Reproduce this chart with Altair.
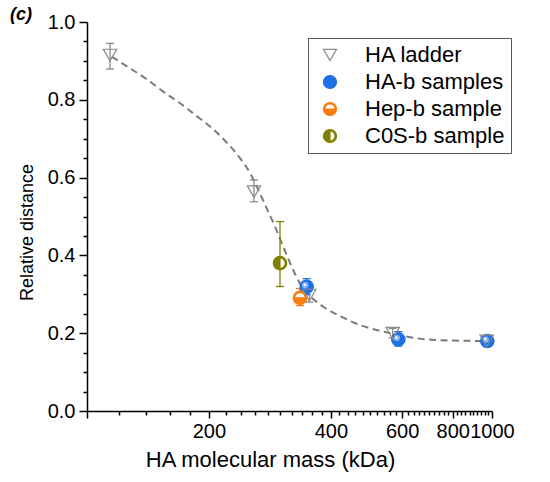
import altair as alt
import pandas as pd

# ---------------- data ----------------
series_order = ["HA ladder", "HA-b samples", "Hep-b sample", "C0S-b sample"]

ladder_mass = [114.0, 258.4, 353.9, 568.5, 970.0]
ladder_dist = [0.915, 0.564, 0.298, 0.200, 0.180]
ladder_lo = [0.879, 0.538, 0.280, 0.188, 0.170]
ladder_hi = [0.945, 0.594, 0.316, 0.212, 0.190]

hab_mass = [348.6, 587.0, 973.6]
hab_dist = [0.3195, 0.184, 0.180]
hab_lo = [0.299, 0.167, 0.168]
hab_hi = [0.340, 0.204, 0.192]

hep_mass = [335.7]
hep_dist = [0.291]
hep_lo = [0.271]
hep_hi = [0.315]

c0s_mass = [299.6]
c0s_dist = [0.380]
c0s_lo = [0.320]
c0s_hi = [0.487]

fit_mass = [115.1, 127.7, 140.4, 154.3, 169.7, 186.6, 205.1, 221.3, 238.7, 252.6,
            264.9, 277.8, 291.2, 305.3, 320.1, 335.7, 355.2, 383.3, 421.4, 472.2,
            529.0, 592.9, 689.8, 802.6, 961.0]
fit_dist = [0.911, 0.881, 0.853, 0.821, 0.791, 0.758, 0.724, 0.690, 0.650, 0.612,
            0.568, 0.521, 0.474, 0.422, 0.371, 0.328, 0.296, 0.268, 0.244, 0.221,
            0.206, 0.1945, 0.184, 0.181, 0.180]

x_ticks = list(range(100, 1001, 20))
y_ticks = [round(i * 0.05, 2) for i in range(21)]

# ---------------- styles ----------------
GRAY = "#8a8a8a"
BLUE = "#1f6fe5"
ORANGE = "#fa7d0a"
OLIVE = "#808000"
FONT = "Liberation Sans"

k = 0.5523
r = 0.78
kr = round(k * r, 4)
outer = (f"M0,-1C{k},-1,1,-{k},1,0C1,{k},{k},1,0,1C-{k},1,-1,{k},-1,0"
         f"C-1,-{k},-{k},-1,0,-1Z")
inner = (f"M0,-{r}C-{kr},-{r},-{r},-{kr},-{r},0C-{r},{kr},-{kr},{r},0,{r}"
         f"C{kr},{r},{r},{kr},{r},0C{r},-{kr},{kr},-{r},0,-{r}Z")
bottom_half = f"M{r},0C{r},{kr},{kr},{r},0,{r}C-{kr},{r},-{r},{kr},-{r},0Z"
left_half = f"M0,{r}C-{kr},{r},-{r},{kr},-{r},0C-{r},-{kr},-{kr},-{r},0,-{r}Z"
HALF_BOTTOM = outer + inner + bottom_half
HALF_LEFT = outer + inner + left_half

fill_range = ["transparent", BLUE, ORANGE, OLIVE]
stroke_range = [GRAY, BLUE, ORANGE, OLIVE]
shape_range = ["triangle-down", "circle", HALF_BOTTOM, HALF_LEFT]
ecolors = dict(zip(series_order, stroke_range))

# ---------------- tables ----------------
groups = [
    ("HA-b samples", hab_mass, hab_dist, hab_lo, hab_hi),
    ("C0S-b sample", c0s_mass, c0s_dist, c0s_lo, c0s_hi),
    ("Hep-b sample", hep_mass, hep_dist, hep_lo, hep_hi),
    ("HA ladder", ladder_mass, ladder_dist, ladder_lo, ladder_hi),
]
rows = []
for name, ms, ds, los, his in groups:
    for m, d, lo, hi in zip(ms, ds, los, his):
        rows.append(dict(series=name, mass=m, dist=d, lo=lo, hi=hi, ecolor=ecolors[name]))
pts = pd.DataFrame(rows)
pts["idx"] = range(len(pts))

caps = pd.concat([
    pts[["mass", "lo", "ecolor"]].rename(columns={"lo": "cap"}),
    pts[["mass", "hi", "ecolor"]].rename(columns={"hi": "cap"}),
])
fit = pd.DataFrame({"mass": fit_mass, "dist": fit_dist})

# ---------------- encodings ----------------
x_axis = alt.Axis(
    values=x_ticks,
    labelExpr="indexof([200,400,600,800,1000], datum.value) >= 0 ? format(datum.value, 'd') : ''",
    tickSize={"condition": {"test": "indexof([100,200,400,600,800,1000], datum.value) >= 0", "value": 7}, "value": 4},
    labelFlush=False, labelOverlap=False, labelBound=False,
    labelPadding=3, titlePadding=8, grid=False, titleX=183,
)
y_axis = alt.Axis(
    values=y_ticks,
    labelExpr="abs(datum.value*5 - round(datum.value*5)) < 0.001 ? format(datum.value, '.1f') : ''",
    tickSize={"condition": {"test": "abs(datum.value*5 - round(datum.value*5)) < 0.001", "value": 8}, "value": 4},
    labelPadding=4, titlePadding=11, grid=False, titleFontSize=18, titleY=210,
)
x_scale = alt.Scale(type="log", domain=[100, 1000], nice=False)
y_scale = alt.Scale(domain=[0, 1], nice=False, zero=False)


def X(field):
    return alt.X(f"{field}:Q", scale=x_scale, axis=x_axis, title="HA molecular mass (kDa)")


def Y(field):
    return alt.Y(f"{field}:Q", scale=y_scale, axis=y_axis, title="Relative distance")


legend = alt.Legend(
    title=None, orient="none", legendX=221, legendY=16,
    strokeColor="#555555", fillColor="white", padding=6,
    labelFont=FONT, labelFontSize=22, labelColor="black",
    symbolSize=170, symbolStrokeWidth=1.2, symbolOffset=5,
    labelOffset=24, rowPadding=5,
)
fill_enc = alt.Fill("series:N", scale=alt.Scale(domain=series_order, range=fill_range), legend=legend)
stroke_enc = alt.Stroke("series:N", scale=alt.Scale(domain=series_order, range=stroke_range), legend=legend)
shape_enc = alt.Shape("series:N", scale=alt.Scale(domain=series_order, range=shape_range), legend=legend)

line = alt.Chart(fit).mark_line(
    color="#7a7a7a", strokeWidth=2, strokeDash=[7, 4.5], interpolate="monotone"
).encode(x=X("mass"), y=Y("dist"))

err = alt.Chart(pts).mark_rule(strokeWidth=1.3).encode(
    x=X("mass"), y=Y("lo"), y2="hi:Q", stroke=alt.Stroke("ecolor:N", scale=None)
)
cap = alt.Chart(caps).mark_point(shape="stroke", size=64, strokeWidth=1.3, opacity=1).encode(
    x=X("mass"), y=Y("cap"), stroke=alt.Stroke("ecolor:N", scale=None)
)

marker_props = dict(filled=True, size=180, strokeWidth=1.2, opacity=1)
blue_filter = "datum.series == 'HA-b samples'"
blue_pts = alt.Chart(pts).transform_filter(blue_filter).mark_point(**marker_props).encode(
    x=X("mass"), y=Y("dist"), fill=fill_enc, stroke=stroke_enc, shape=shape_enc
)
blue_glow = alt.Chart(pts).transform_filter(blue_filter).mark_point(
    shape="circle", filled=True, size=40, fill="#9cc4ff", opacity=0.8, xOffset=-1.5, yOffset=-1.5
).encode(x=X("mass"), y=Y("dist"))
blue_spark = alt.Chart(pts).transform_filter(blue_filter).mark_point(
    shape="circle", filled=True, size=6, fill="white", opacity=1, xOffset=-2, yOffset=-2
).encode(x=X("mass"), y=Y("dist"))
white_under = alt.Chart(pts).transform_filter(
    "datum.series == 'Hep-b sample' || datum.series == 'C0S-b sample'"
).mark_point(shape="circle", filled=True, size=180, fill="white", opacity=1).encode(
    x=X("mass"), y=Y("dist")
)
other_pts = alt.Chart(pts).transform_filter(
    "datum.series != 'HA-b samples'"
).mark_point(**marker_props).encode(
    x=X("mass"), y=Y("dist"), fill=fill_enc, stroke=stroke_enc, shape=shape_enc,
    order=alt.Order("idx:Q")
)

chart = alt.layer(line, err, cap, blue_pts, blue_glow, blue_spark, white_under, other_pts).properties(
    width=405, height=389,
    background="white",
    autosize=alt.AutoSizeParams(type="none"),
    padding={"left": 87, "top": 22, "right": 58, "bottom": 71},
    title=alt.TitleParams(
        "(c)", anchor="start", frame="group", dx=-77, dy=12, offset=0,
        fontSize=18, fontStyle="italic", fontWeight="bold", font=FONT, color="black",
    ),
).configure_view(stroke=None).configure_axis(
    domainColor="black", domainWidth=1.5, tickColor="black", tickWidth=1.5,
    labelFont=FONT, labelFontSize=20, labelColor="black",
    titleFont=FONT, titleFontSize=22, titleColor="black", titleFontWeight="normal",
)

chart.save("out.html", embed_options={"renderer": "svg", "actions": False})
